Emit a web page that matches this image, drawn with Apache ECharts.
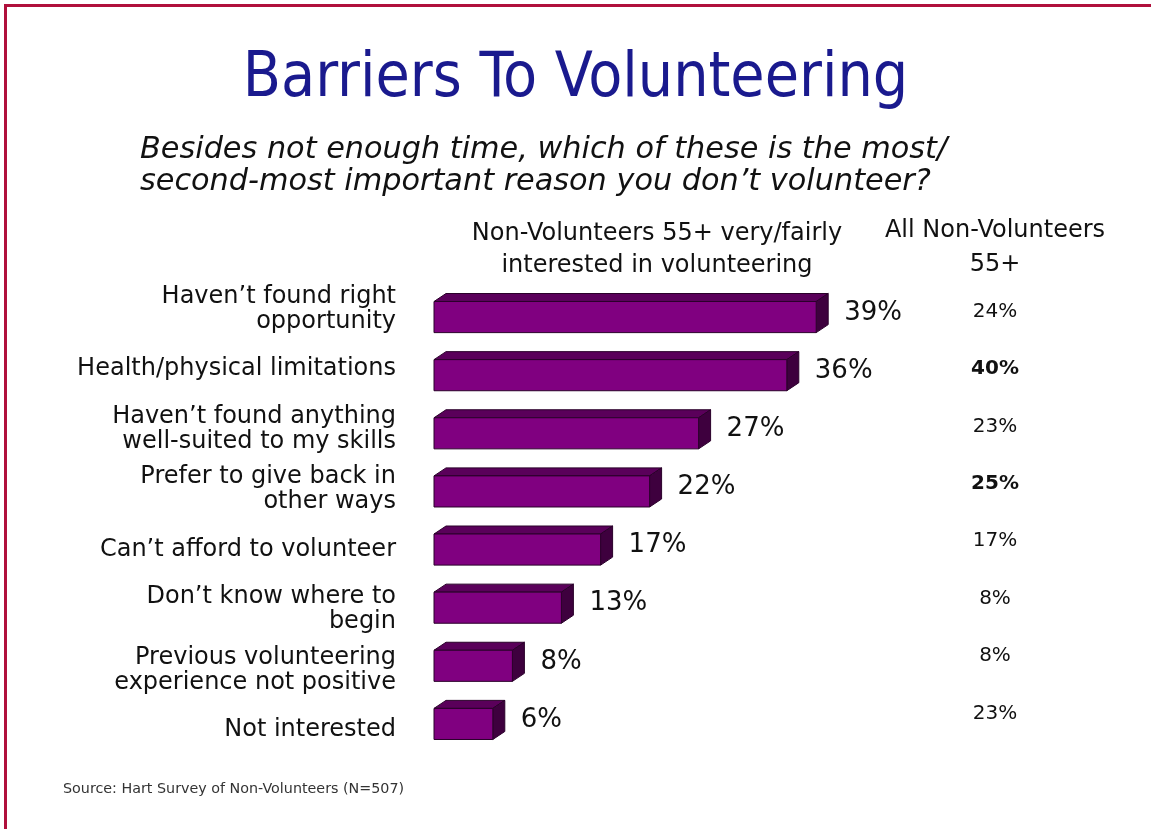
<!DOCTYPE html>
<html>
<head>
<meta charset="utf-8">
<script src="https://cdn.jsdelivr.net/npm/echarts@6/dist/echarts.min.js"></script>
<style>
  html, body { margin: 0; padding: 0; background: #ffffff; }
  #chart { width: 1151px; height: 829px; }
</style>
</head>
<body>
<div id="chart"></div>
<script>
// Reasons for not volunteering (most / second-most important)
const reasons = [
  "Haven’t found right\nopportunity",
  "Health/physical limitations",
  "Haven’t found anything\nwell-suited to my skills",
  "Prefer to give back in\nother ways",
  "Can’t afford to volunteer",
  "Don’t know where to\nbegin",
  "Previous volunteering\nexperience not positive",
  "Not interested"
];
// Non-Volunteers 55+ very/fairly interested in volunteering (%)
const interestedPct = [39, 36, 27, 22, 17, 13, 8, 6];
// All Non-Volunteers 55+ (%)
const allPct = [24, 40, 23, 25, 17, 8, 8, 23];
// Values shown in bold in the second column
const allBold = [false, true, false, true, false, false, false, false];

const FONT = "'DejaVu Sans', sans-serif";
const TITLE_FONT = "'DejaVu Sans Condensed', 'DejaVu Sans', sans-serif";
const FRONT = '#800080';
const TOP = '#5a005a';
const SIDE = '#3e003e';
const EDGE = '#2a002a';
const DEPTH_X = 12;
const DEPTH_Y = 8;

function renderBar3D(params, api) {
  const val = api.value(0);
  const cat = api.value(1);
  const start = api.coord([0, cat]);
  const end = api.coord([val, cat]);
  const h = api.size([0, 1])[1] * 0.535;
  const x0 = start[0], x1 = end[0];
  const y0 = end[1] - h / 2, y1 = end[1] + h / 2;
  return {
    type: 'group',
    children: [
      {
        type: 'polygon',
        shape: { points: [[x0, y0], [x1, y0], [x1 + DEPTH_X, y0 - DEPTH_Y], [x0 + DEPTH_X, y0 - DEPTH_Y]] },
        style: { fill: TOP, stroke: EDGE, lineWidth: 1 }
      },
      {
        type: 'polygon',
        shape: { points: [[x1, y0], [x1 + DEPTH_X, y0 - DEPTH_Y], [x1 + DEPTH_X, y1 - DEPTH_Y], [x1, y1]] },
        style: { fill: SIDE, stroke: EDGE, lineWidth: 1 }
      },
      {
        type: 'rect',
        shape: { x: x0, y: y0, width: x1 - x0, height: h },
        style: { fill: FRONT, stroke: EDGE, lineWidth: 1 }
      },
      {
        type: 'text',
        x: x1 + DEPTH_X + 16,
        y: end[1] - DEPTH_Y / 2,
        style: {
          text: val + '%',
          fill: '#111111',
          font: '26px ' + FONT,
          verticalAlign: 'middle',
          align: 'left'
        }
      }
    ]
  };
}

const chart = echarts.init(document.getElementById('chart'), null, { renderer: 'canvas' });

chart.setOption({
  backgroundColor: '#ffffff',
  animation: false,
  title: [
    {
      text: 'Barriers To Volunteering',
      left: 'center',
      top: 44,
      textStyle: { color: '#1a1a8e', fontFamily: TITLE_FONT, fontSize: 62, fontWeight: 'normal' }
    },
    {
      text: 'Besides not enough time, which of these is the most/\nsecond-most important reason you don’t volunteer?',
      left: 135,
      top: 129,
      textStyle: { color: '#111111', fontFamily: FONT, fontSize: 30.3, fontStyle: 'italic', fontWeight: 'normal', lineHeight: 32 }
    },
    {
      text: 'Non-Volunteers 55+ very/fairly\ninterested in volunteering',
      left: 652,
      top: 213,
      textAlign: 'center',
      textStyle: { color: '#111111', fontFamily: FONT, fontSize: 24, fontWeight: 'normal', lineHeight: 32, align: 'center' }
    },
    {
      text: 'All Non-Volunteers\n55+',
      left: 990,
      top: 209,
      textAlign: 'center',
      textStyle: { color: '#111111', fontFamily: FONT, fontSize: 24, fontWeight: 'normal', lineHeight: 34, align: 'center' }
    },
    {
      text: 'Source: Hart Survey of Non-Volunteers (N=507)',
      left: 58,
      top: 777,
      textStyle: { color: '#333333', fontFamily: FONT, fontSize: 14.3, fontWeight: 'normal' }
    }
  ],
  graphic: [
    {
      type: 'polyline',
      shape: { points: [[5.5, 829], [5.5, 5.5], [1151, 5.5]] },
      style: { stroke: '#b0103c', lineWidth: 3, fill: null }
    }
  ],
  grid: [
    { left: 434, top: 288, width: 588, height: 465 },
    { left: 396, top: 279, width: 1, height: 481 },
    { left: 995, top: 283, width: 1, height: 459 }
  ],
  xAxis: [
    { type: 'value', gridIndex: 0, min: 0, max: 60, show: false },
    { type: 'value', gridIndex: 1, show: false },
    { type: 'value', gridIndex: 2, show: false }
  ],
  yAxis: [
    {
      type: 'category', gridIndex: 0, data: reasons, inverse: true, show: false
    },
    {
      type: 'category', gridIndex: 1, data: reasons, inverse: true,
      axisLine: { show: false }, axisTick: { show: false },
      axisLabel: {
        margin: 0, align: 'right', color: '#111111',
        fontFamily: FONT, fontSize: 24, lineHeight: 25
      }
    },
    {
      type: 'category', gridIndex: 2, data: allPct.map(String), inverse: true,
      axisLine: { show: false }, axisTick: { show: false },
      axisLabel: {
        margin: 0, align: 'center', color: '#111111',
        fontFamily: FONT, fontSize: 20,
        formatter: function (v, i) {
          return allBold[i] ? '{b|' + v + '%}' : v + '%';
        },
        rich: {
          b: { fontFamily: FONT, fontSize: 20, fontWeight: 'bold', color: '#111111' }
        }
      }
    }
  ],
  series: [
    {
      type: 'custom',
      xAxisIndex: 0,
      yAxisIndex: 0,
      renderItem: renderBar3D,
      encode: { x: 0, y: 1 },
      data: interestedPct.map(function (v, i) { return [v, i]; })
    }
  ]
});
</script>
</body>
</html>
